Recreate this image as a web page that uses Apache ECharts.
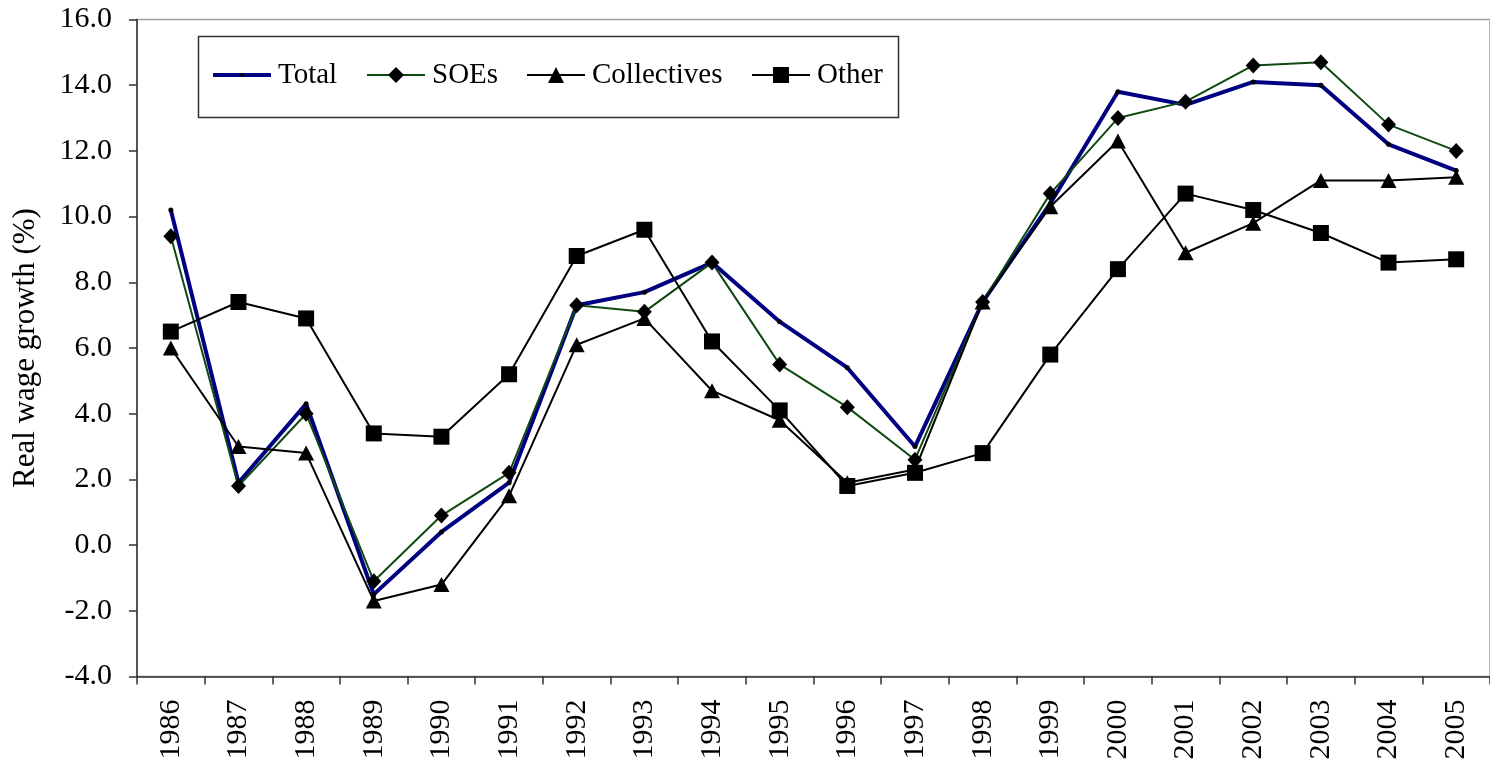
<!DOCTYPE html>
<html>
<head>
<meta charset="utf-8">
<script src="https://cdn.jsdelivr.net/npm/echarts@6/dist/echarts.min.js"></script>
<style>
  html, body { margin: 0; padding: 0; background: #fff; }
  #chart { width: 1490px; height: 765px; }
</style>
</head>
<body>
<div id="chart"></div>
<script>
// Real wage growth by ownership type, 1986-2005 (%)
const years = ['1986','1987','1988','1989','1990','1991','1992','1993','1994','1995',
               '1996','1997','1998','1999','2000','2001','2002','2003','2004','2005'];
const total       = [10.2, 1.9, 4.3, -1.5, 0.4, 1.9, 7.3, 7.7, 8.6, 6.8,
                     5.4, 3.0, 7.4, 10.4, 13.8, 13.4, 14.1, 14.0, 12.2, 11.4];
const soes        = [9.4, 1.8, 4.0, -1.1, 0.9, 2.2, 7.3, 7.1, 8.6, 5.5,
                     4.2, 2.6, 7.4, 10.7, 13.0, 13.5, 14.6, 14.7, 12.8, 12.0];
const collectives = [6.0, 3.0, 2.8, -1.7, -1.2, 1.5, 6.1, 6.9, 4.7, 3.8,
                     1.9, 2.3, 7.4, 10.3, 12.3, 8.9, 9.8, 11.1, 11.1, 11.2];
const other       = [6.5, 7.4, 6.9, 3.4, 3.3, 5.2, 8.8, 9.6, 6.2, 4.1,
                     1.8, 2.2, 2.8, 5.8, 8.4, 10.7, 10.2, 9.5, 8.6, 8.7];
const yTicks = { min: -4, max: 16, step: 2 };

const serif = 'Liberation Serif, Times New Roman, serif';
const axisFs = 30;
const legendFs = 29;

const navy = '#000080';
const darkGreen = '#0e4a12';

// one legend per entry so each key can carry its own marker size and line weight
function legendEntry(name, left, markerH, lineColor, lineWidth) {
  return {
    left: left, top: 60, padding: 0,
    itemWidth: 58, itemHeight: markerH,
    lineStyle: { color: lineColor, width: lineWidth },
    textStyle: { fontFamily: serif, fontSize: legendFs, color: '#000',
                 lineHeight: 30, padding: [0, 0, 0, 2] },
    data: [name]
  };
}

const chart = echarts.init(document.getElementById('chart'), null, { renderer: 'canvas' });

chart.setOption({
  animation: false,
  backgroundColor: '#ffffff',
  grid: {
    left: 137, top: 19.5, width: 1356, height: 657,
    show: true, borderColor: '#a0a0a0', borderWidth: 1.5, backgroundColor: 'transparent'
  },
  graphic: [{
    type: 'rect', left: 196, top: 34, z: 100,
    shape: { width: 700, height: 81 },
    style: { fill: 'none', stroke: '#333333', lineWidth: 1.5 }
  }],
  legend: [
    legendEntry('Total', 211, 5, navy, 4),
    legendEntry('SOEs', 366, 20, darkGreen, 2),
    legendEntry('Collectives', 526, 20, '#000000', 2),
    legendEntry('Other', 751, 20, '#000000', 2)
  ],
  xAxis: {
    type: 'category',
    data: years,
    boundaryGap: true,
    axisLine: { onZero: false, lineStyle: { color: '#333333', width: 1.5 } },
    axisTick: { show: true, length: 8, inside: false, lineStyle: { color: '#333333', width: 1.5 } },
    axisLabel: { rotate: 90, margin: 23, fontFamily: serif, fontSize: axisFs, color: '#000' },
    splitLine: { show: false }
  },
  yAxis: {
    type: 'value',
    min: yTicks.min, max: yTicks.max, interval: yTicks.step,
    name: 'Real wage growth (%)',
    nameLocation: 'middle', nameRotate: 90, nameGap: 96,
    nameTextStyle: { fontFamily: serif, fontSize: 31, color: '#000' },
    axisLine: { show: true, lineStyle: { color: '#333333', width: 1.5 } },
    axisTick: { show: true, length: 8, inside: false, lineStyle: { color: '#333333', width: 1.5 } },
    axisLabel: { margin: 25, fontFamily: serif, fontSize: axisFs, color: '#000',
                 formatter: v => v.toFixed(1) },
    splitLine: { show: false }
  },
  series: [
    {
      name: 'Total', type: 'line', data: total,
      symbol: 'circle', symbolSize: 5, showAllSymbol: true,
      lineStyle: { color: navy, width: 4 },
      itemStyle: { color: '#000000', borderWidth: 0 },
      z: 3
    },
    {
      name: 'SOEs', type: 'line', data: soes,
      symbol: 'diamond', symbolSize: [15, 16], showAllSymbol: true,
      lineStyle: { color: darkGreen, width: 2 },
      itemStyle: { color: '#000000', borderWidth: 0 },
      z: 4
    },
    {
      name: 'Collectives', type: 'line', data: collectives,
      symbol: 'triangle', symbolSize: [16, 15], showAllSymbol: true,
      lineStyle: { color: '#000000', width: 2 },
      itemStyle: { color: '#000000', borderWidth: 0 },
      z: 5
    },
    {
      name: 'Other', type: 'line', data: other,
      symbol: 'rect', symbolSize: 16, showAllSymbol: true,
      lineStyle: { color: '#000000', width: 2 },
      itemStyle: { color: '#000000', borderWidth: 0 },
      z: 6
    }
  ]
});
</script>
</body>
</html>
